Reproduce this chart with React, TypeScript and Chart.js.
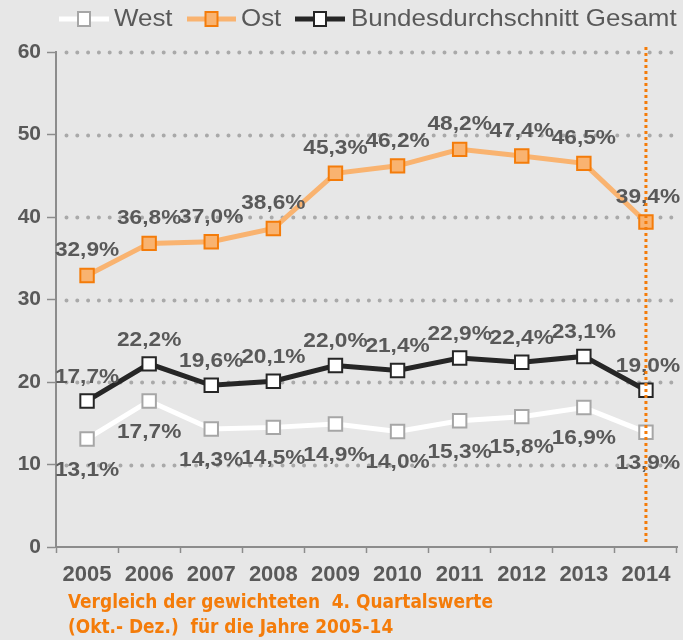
import React, { useEffect, useRef } from "react";
import { Chart, registerables } from "chart.js";

Chart.register(...registerables);

const years = ["2005", "2006", "2007", "2008", "2009", "2010", "2011", "2012", "2013", "2014"];
const westValues = [13.1, 17.7, 14.3, 14.5, 14.9, 14.0, 15.3, 15.8, 16.9, 13.9];
const ostValues = [32.9, 36.8, 37.0, 38.6, 45.3, 46.2, 48.2, 47.4, 46.5, 39.4];
const bundValues = [17.7, 22.2, 19.6, 20.1, 22.0, 21.4, 22.9, 22.4, 23.1, 19.0];
const seriesNames = ["West", "Ost", "Bundesdurchschnitt Gesamt"];
const footnoteLines = [
  "Vergleich der gewichteten  4. Quartalswerte",
  "(Okt.- Dez.)  für die Jahre 2005-14",
];
const markedYear = "2014";

const FONT = '"Liberation Sans", Arial, Helvetica, sans-serif';
const TEXT = "#595959";
const BG = "#e7e7e7";
const ORANGE_DARK = "#f47c0a";
const ORANGE_LIGHT = "#f9b370";
const DARK = "#262626";
const GRAY_BORDER = "#a6a6a6";
const AXIS = "#8c8c8c";
const STRETCH = 1.08;

const fmt = (v: number) => v.toFixed(1).replace(".", ",") + "%";

const legendItems = [
  { lineColor: "#ffffff", fill: "#ffffff", border: GRAY_BORDER, lineX1: 59, lineX2: 109, textX: 114 },
  { lineColor: ORANGE_LIGHT, fill: ORANGE_LIGHT, border: ORANGE_DARK, lineX1: 187, lineX2: 236, textX: 241 },
  { lineColor: DARK, fill: "#ffffff", border: DARK, lineX1: 295, lineX2: 345, textX: 351 },
];

const stretchedText = (ctx: any, text: string, x: number, y: number, sx: number) => {
  ctx.save();
  ctx.translate(x, y);
  ctx.scale(sx, 1);
  ctx.fillText(text, 0, 0);
  ctx.restore();
};

const customPlugin = {
  id: "custom",
  beforeDraw(chart: any) {
    const ctx = chart.ctx;
    ctx.save();
    ctx.fillStyle = BG;
    ctx.fillRect(0, 0, chart.width, chart.height);
    ctx.restore();
  },
  beforeDatasetsDraw(chart: any) {
    const ctx = chart.ctx;
    const y = chart.scales.y;
    const area = chart.chartArea;
    ctx.save();
    ctx.strokeStyle = "#a9a9a9";
    ctx.lineWidth = 4;
    ctx.lineCap = "round";
    ctx.setLineDash([0, 10.8]);
    y.ticks.forEach((t: any) => {
      if (t.value === 0) return;
      const py = Math.round(y.getPixelForValue(t.value)) + 0.5;
      ctx.beginPath();
      ctx.moveTo(area.left + 10.5, py);
      ctx.lineTo(area.right - 5, py);
      ctx.stroke();
    });
    ctx.restore();
  },
  afterDatasetsDraw(chart: any) {
    const ctx = chart.ctx;
    ctx.save();
    ctx.font = `bold 21px ${FONT}`;
    ctx.fillStyle = TEXT;
    ctx.textAlign = "center";
    ctx.textBaseline = "middle";
    chart.data.datasets.forEach((ds: any, i: number) => {
      const meta = chart.getDatasetMeta(i);
      meta.data.forEach((el: any, j: number) => {
        const v = ds.data[j];
        stretchedText(ctx, fmt(v), el.x + (j === years.length - 1 ? 2 : 0), el.y + ds.labelOffset, STRETCH);
      });
    });
    ctx.restore();
  },
  afterDraw(chart: any) {
    const ctx = chart.ctx;
    const area = chart.chartArea;
    const x = chart.scales.x;
    // orange dotted marker line
    const mx = x.getPixelForValue(years.indexOf(markedYear));
    ctx.save();
    ctx.strokeStyle = ORANGE_DARK;
    ctx.lineWidth = 3;
    ctx.setLineDash([3, 3]);
    ctx.beginPath();
    ctx.moveTo(mx, area.top - 5);
    ctx.lineTo(mx, area.bottom - 2);
    ctx.stroke();
    ctx.restore();

    // legend
    ctx.save();
    const ly = 19;
    legendItems.forEach((it, i) => {
      ctx.strokeStyle = it.lineColor;
      ctx.lineWidth = 5;
      ctx.beginPath();
      ctx.moveTo(it.lineX1, ly);
      ctx.lineTo(it.lineX2, ly);
      ctx.stroke();
      const cx = (it.lineX1 + it.lineX2) / 2;
      ctx.fillStyle = it.fill;
      ctx.fillRect(cx - 6, ly - 7, 12, 14);
      ctx.strokeStyle = it.border;
      ctx.lineWidth = 2;
      ctx.strokeRect(cx - 6, ly - 7, 12, 14);
      ctx.fillStyle = TEXT;
      ctx.font = `24px ${FONT}`;
      ctx.textAlign = "left";
      ctx.textBaseline = "middle";
      stretchedText(ctx, seriesNames[i], it.textX, ly, STRETCH);
    });
    ctx.restore();

    // footnote
    ctx.save();
    ctx.fillStyle = ORANGE_DARK;
    ctx.font = 'bold 20px "Liberation Sans Narrow", "DejaVu Sans Condensed", "Arial Narrow", sans-serif';
    ctx.textAlign = "left";
    ctx.textBaseline = "middle";
    const w0 = ctx.measureText(footnoteLines[0]).width;
    const sx = 425 / w0;
    const ys = [603, 628];
    footnoteLines.forEach((line, i) => {
      stretchedText(ctx, line, 68, ys[i], sx);
    });
    ctx.restore();
  },
};

export default function App() {
  const ref = useRef<HTMLCanvasElement>(null);
  useEffect(() => {
    document.body.style.margin = "0";
    const chart = new Chart(ref.current as HTMLCanvasElement, {
      type: "line",
      data: {
        labels: years,
        datasets: [
          {
            label: seriesNames[0],
            data: westValues,
            borderColor: "#ffffff",
            borderWidth: 5,
            pointStyle: "rect",
            pointRadius: 9.5,
            pointBackgroundColor: "#ffffff",
            pointBorderColor: GRAY_BORDER,
            pointBorderWidth: 2,
            labelOffset: 31,
          } as any,
          {
            label: seriesNames[1],
            data: ostValues,
            borderColor: ORANGE_LIGHT,
            borderWidth: 5,
            pointStyle: "rect",
            pointRadius: 9.5,
            pointBackgroundColor: ORANGE_LIGHT,
            pointBorderColor: ORANGE_DARK,
            pointBorderWidth: 2,
            labelOffset: -25,
          } as any,
          {
            label: seriesNames[2],
            data: bundValues,
            borderColor: DARK,
            borderWidth: 5,
            pointStyle: "rect",
            pointRadius: 9.5,
            pointBackgroundColor: "#ffffff",
            pointBorderColor: DARK,
            pointBorderWidth: 2,
            labelOffset: -24,
          } as any,
        ],
      },
      options: {
        responsive: false,
        animation: false,
        layout: { autoPadding: false, padding: { top: 52, right: 6, left: 0, bottom: 0 } },
        plugins: {
          legend: { display: false },
          tooltip: { enabled: false },
          title: { display: false },
        },
        scales: {
          x: {
            type: "category",
            offset: true,
            grid: {
              display: true,
              offset: true,
              drawOnChartArea: false,
              drawTicks: true,
              tickLength: 6,
              tickColor: AXIS,
              tickWidth: 1.5,
            },
            border: { display: true, color: AXIS, width: 2 },
            ticks: {
              color: TEXT,
              font: { family: FONT, size: 22, weight: "bold" },
              padding: 9,
              maxRotation: 0,
            },
            afterFit: (s: any) => {
              s.height = 93;
              s.paddingLeft = 0;
              s.paddingRight = 0;
            },
          },
          y: {
            min: 0,
            max: 60,
            ticks: {
              stepSize: 10,
              color: TEXT,
              font: { family: FONT, size: 21, weight: "bold" },
              padding: 6,
            },
            grid: {
              display: true,
              drawOnChartArea: false,
              drawTicks: true,
              tickLength: 9,
              tickColor: AXIS,
              tickWidth: 1.5,
            },
            border: { display: true, color: AXIS, width: 2 },
            afterFit: (s: any) => {
              s.width = 56;
              s.paddingTop = 0;
              s.paddingBottom = 0;
            },
          },
        },
      } as any,
      plugins: [customPlugin],
    });
    return () => chart.destroy();
  }, []);
  return (
    <div style={{ width: 683, height: 640 }}>
      <canvas ref={ref} width={683} height={640} style={{ display: "block" }} />
    </div>
  );
}
